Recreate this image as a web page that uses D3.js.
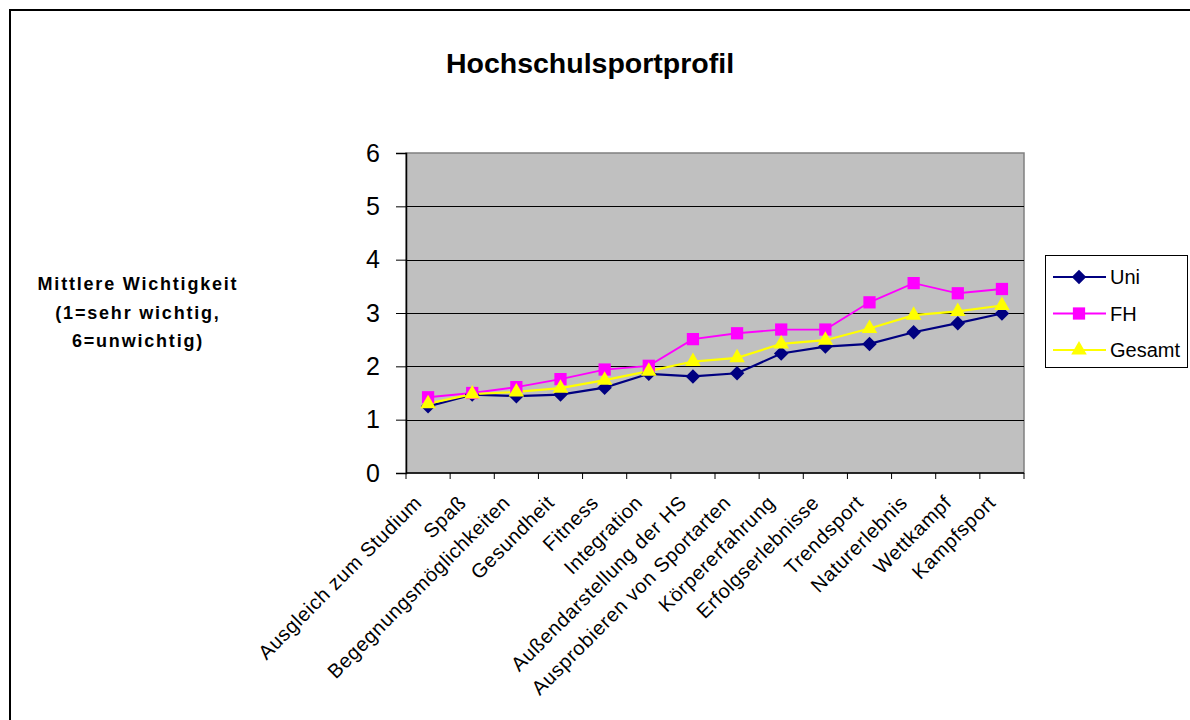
<!DOCTYPE html>
<html>
<meta charset="utf-8">
<title>Hochschulsportprofil</title>
<style>
body { margin: 0; background: #fff; }
svg { font-family: Arial, "Liberation Sans", sans-serif; }
.grid line { stroke: #000; stroke-width: 1; }
.axis path, .axis line { stroke: #000; }
.axis text { fill: #000; }
</style>
<body>
<svg></svg>
<script src="https://d3js.org/d3.v7.min.js"></script>
<script>

var categories = ["Ausgleich zum Studium", "Spaß", "Begegnungsmöglichkeiten", "Gesundheit",
  "Fitness", "Integration", "Außendarstellung der HS", "Ausprobieren von Sportarten",
  "Körpererfahrung", "Erfolgserlebnisse", "Trendsport", "Naturerlebnis", "Wettkampf", "Kampfsport"];
var uni    = [1.25, 1.47, 1.44, 1.47, 1.60, 1.86, 1.81, 1.87, 2.24, 2.37, 2.42, 2.64, 2.81, 2.99];
var fh     = [1.42, 1.50, 1.61, 1.76, 1.94, 2.01, 2.51, 2.62, 2.69, 2.69, 3.20, 3.56, 3.37, 3.45];
var gesamt = [1.30, 1.48, 1.52, 1.59, 1.74, 1.91, 2.09, 2.16, 2.42, 2.49, 2.71, 2.96, 3.03, 3.14];
var yTicks = [0, 1, 2, 3, 4, 5, 6];

// diamond = square turned by 45 degrees
var series = [
  {name: "Uni", values: uni, color: "#000080", symbol: d3.symbolSquare, size: 105, rot: 45, width: 2.2},
  {name: "FH", values: fh, color: "#FF00FF", symbol: d3.symbolSquare, size: 150, rot: 0, width: 1.8},
  {name: "Gesamt", values: gesamt, color: "#FFFF00", symbol: d3.symbolTriangle, size: 105, rot: 0, width: 2.2}
];

var svg = d3.select("svg").attr("width", 1190).attr("height", 720);

// outer chart frame
svg.append("rect").attr("x", 10).attr("y", 10).attr("width", 1200).attr("height", 730)
  .attr("fill", "#fff").attr("stroke", "#000").attr("stroke-width", 2);

var plot = {left: 406, top: 153, width: 618, height: 320};

var x = d3.scaleBand().domain(categories).range([plot.left, plot.left + plot.width]);
var y = d3.scaleLinear().domain([0, 6]).range([plot.top + plot.height, plot.top]);

svg.append("rect").attr("x", plot.left).attr("y", plot.top)
  .attr("width", plot.width).attr("height", plot.height)
  .attr("fill", "#C0C0C0").attr("stroke", "#808080").attr("stroke-width", 1.5);

svg.append("g").attr("class", "grid")
  .selectAll("line").data(yTicks.filter(function(d) { return d > 0 && d < 6; }))
  .enter().append("line")
    .attr("x1", plot.left).attr("x2", plot.left + plot.width)
    .attr("y1", function(d) { return Math.round(y(d)) + 0.5; })
    .attr("y2", function(d) { return Math.round(y(d)) + 0.5; });

// y axis
var yAxis = svg.append("g").attr("class", "axis")
  .attr("transform", "translate(" + plot.left + ",0)")
  .call(d3.axisLeft(y).tickValues(yTicks).tickFormat(d3.format("d")).tickSize(10).tickPadding(16));
yAxis.select(".domain").attr("stroke-width", 1.5);
yAxis.selectAll("text").attr("font-size", 25).attr("font-family", "Arial, 'Liberation Sans', sans-serif");

// x axis: ticks at band boundaries
var xAxis = svg.append("g").attr("class", "axis")
  .attr("transform", "translate(0," + (plot.top + plot.height) + ")");
xAxis.append("line").attr("x1", plot.left).attr("x2", plot.left + plot.width)
  .attr("stroke", "#000").attr("stroke-width", 1.5);
xAxis.selectAll("line.tick").data(categories.concat([null]))
  .enter().append("line").attr("class", "tick")
    .attr("x1", function(d, i) { return plot.left + i * x.bandwidth(); })
    .attr("x2", function(d, i) { return plot.left + i * x.bandwidth(); })
    .attr("y1", 0).attr("y2", 6).attr("stroke", "#000");
xAxis.selectAll("text").data(categories)
  .enter().append("text")
    .attr("transform", function(d) {
      return "translate(" + (x(d) + x.bandwidth() / 2 - 5) + ",31) rotate(-45)";
    })
    .attr("text-anchor", "end")
    .attr("font-size", 20)
    .attr("letter-spacing", 0.6)
    .text(function(d) { return d; });

// lines and markers
var line = d3.line()
  .x(function(d, i) { return x(categories[i]) + x.bandwidth() / 2; })
  .y(function(d) { return y(d); });

series.forEach(function(s) {
  svg.append("path").datum(s.values)
    .attr("fill", "none").attr("stroke", s.color).attr("stroke-width", s.width)
    .attr("d", line);
});
series.forEach(function(s) {
  svg.selectAll(null).data(s.values).enter().append("path")
    .attr("transform", function(d, i) {
      return "translate(" + (x(categories[i]) + x.bandwidth() / 2) + "," + y(d) + ") rotate(" + s.rot + ")";
    })
    .attr("d", d3.symbol().type(s.symbol).size(s.size))
    .attr("fill", s.color);
});

// title
svg.append("text").attr("x", 590).attr("y", 73).attr("text-anchor", "middle")
  .attr("font-size", 28.5).attr("font-weight", "bold").text("Hochschulsportprofil");

// y axis title
var yTitle = ["Mittlere Wichtigkeit", "(1=sehr wichtig,", "6=unwichtig)"];
svg.append("g").selectAll("text").data(yTitle).enter().append("text")
  .attr("x", 138).attr("y", function(d, i) { return 290 + i * 28.5; })
  .attr("text-anchor", "middle").attr("font-size", 18).attr("font-weight", "bold")
  .attr("letter-spacing", 1.8)
  .text(function(d) { return d; });

// legend
var legend = svg.append("g");
legend.append("rect").attr("x", 1045.5).attr("y", 255.5).attr("width", 142).attr("height", 112)
  .attr("fill", "#fff").attr("stroke", "#000").attr("stroke-width", 1);
series.forEach(function(s, i) {
  var ly = 277 + i * 36.5;
  legend.append("line").attr("x1", 1053).attr("x2", 1106).attr("y1", ly).attr("y2", ly)
    .attr("stroke", s.color).attr("stroke-width", s.width);
  legend.append("path").attr("transform", "translate(1079," + ly + ") rotate(" + s.rot + ")")
    .attr("d", d3.symbol().type(s.symbol).size(s.size)).attr("fill", s.color);
  legend.append("text").attr("x", 1110).attr("y", ly + 7).attr("font-size", 20)
    .text(s.name);
});

</script>
</body>
</html>
